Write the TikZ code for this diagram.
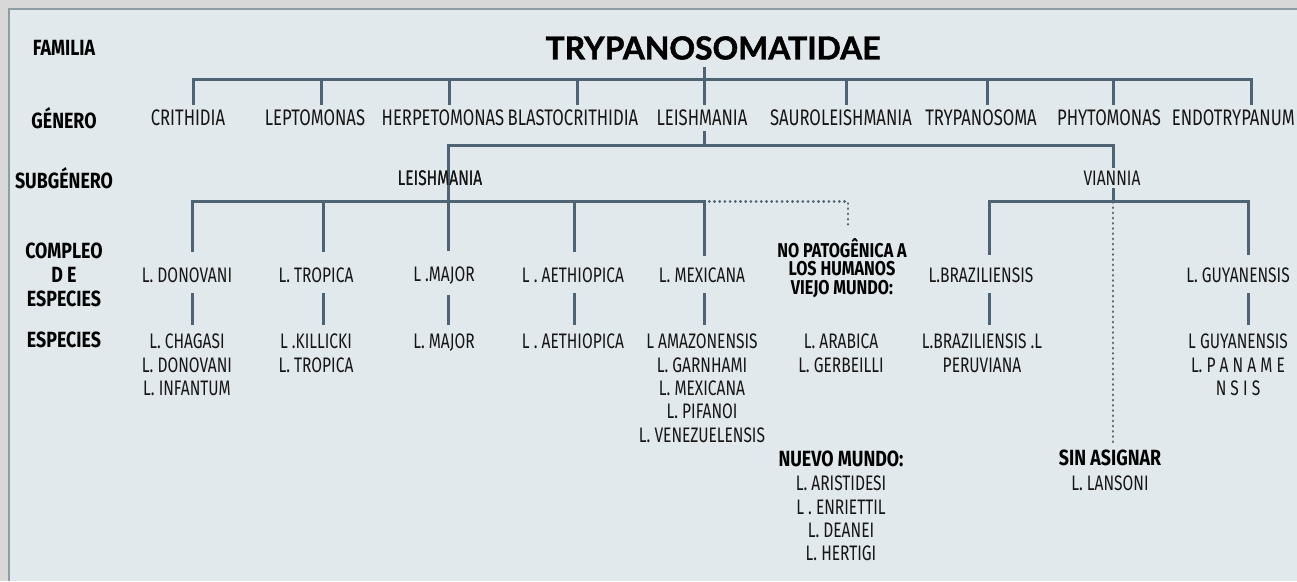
\documentclass[tikz,border=0pt]{standalone}
\usepackage{fontspec}
\setmainfont{Fira Sans}
\newfontfamily\cond{Fira Sans}[FakeStretch=0.74]
\newfontfamily\condb{Fira Sans}[FakeStretch=0.81]
\newfontfamily\titlef{Lato}[BoldFeatures={FakeBold=1.5}]
\definecolor{bg}{HTML}{E2E9EC}
\definecolor{lc}{HTML}{4E6373}
\definecolor{tc}{HTML}{161616}
\definecolor{framec}{HTML}{8D9DA6}
\definecolor{shadowc}{HTML}{D8D8D8}
\begin{document}
\begin{tikzpicture}[x=1pt,y=-1pt,
  line/.style={draw=lc,line width=3pt},
  dotline/.style={draw=lc,line width=2.8pt,line cap=round,dash pattern=on 0.2pt off 5pt},
  txt/.style={font=\cond\fontsize{21}{23.3}\selectfont,text=tc,inner sep=0pt,align=center},
  gtxt/.style={font=\cond\fontsize{22.5}{24}\selectfont,text=tc,inner sep=0pt,align=center},
  lab/.style={font=\condb\bfseries\fontsize{22}{23.8}\selectfont,text=black,inner sep=0pt,align=center},
  hd/.style={font=\condb\bfseries\fontsize{20}{18.6}\selectfont,text=black,inner sep=0pt,align=center},
]
\useasboundingbox (0,0) rectangle (1297,581);
% background and frame
\fill[shadowc] (0,0) rectangle (1297,581);
\fill[bg] (8,8) rectangle (1297,581);
\draw[framec,line width=2pt] (9,581) -- (9,9) -- (1297,9);

% title and row labels
\node[font=\titlef\bfseries\fontsize{31.8}{32}\selectfont,text=black,inner sep=0pt] (T) at (713,48) {TRYPANOSOMATIDAE};
\node[lab] (lF) at (64,48) {FAMILIA};
\node[lab] (lG) at (64,118) {GÉNERO};
\node[lab] (lS) at (64,178) {SUBGÉNERO};
\node[lab,anchor=north] (lC) at (64,243) {COMPLEO\\D E\\ESPECIES};
\node[lab] (lE) at (64,340) {ESPECIES};

% genera
\node[gtxt] (crith) at (188,118) {CRITHIDIA};
\node[gtxt] (lepto) at (315,118) {LEPTOMONAS};
\node[gtxt] (herpeto) at (443,118) {HERPETOMONAS};
\node[gtxt] (blasto) at (573,118) {BLASTOCRITHIDIA};
\node[gtxt] (leishG) at (702,118) {LEISHMANIA};
\node[gtxt] (sauro) at (841,118) {SAUROLEISHMANIA};
\node[gtxt] (trypano) at (981,118) {TRYPANOSOMA};
\node[gtxt] (phyto) at (1109,118) {PHYTOMONAS};
\node[gtxt,anchor=east] (endo) at (1295,118) {ENDOTRYPANUM};

% subgenera
\node[txt] (sL) at (440,178) {LEISHMANIA};
\node[txt] (sV) at (1112,178) {VIANNIA};

% species complexes
\node[txt] (cD) at (187,275.5) {L. DONOVANI};
\node[txt] (cT) at (316,275.5) {L. TROPICA};
\node[txt] (cM) at (444,275.5) {L .MAJOR};
\node[txt] (cA) at (573,275.5) {L . AETHIOPICA};
\node[txt] (cMx) at (702,275.5) {L. MEXICANA};
\node[txt] (cB) at (981,275.5) {L.BRAZILIENSIS};
\node[txt] (cG) at (1238,275.5) {L. GUYANENSIS};
\node[hd,anchor=north] (nP) at (842,238) {NO PATOGÊNICA A\\LOS HUMANOS\\VIEJO MUNDO:};

% species
\node[txt,anchor=north] (sD) at (187,334) {L. CHAGASI\\L. DONOVANI\\L. INFANTUM};
\node[txt,anchor=north] (sT) at (316,334) {L .KILLICKI\\L. TROPICA};
\node[txt,anchor=north] (sM) at (444,334) {L. MAJOR};
\node[txt,anchor=north] (sA) at (573,334) {L . AETHIOPICA};
\node[txt,anchor=north] (sMx) at (702,334) {L AMAZONENSIS\\L. GARNHAMI\\L. MEXICANA\\L. PIFANOI\\L. VENEZUELENSIS};
\node[txt,anchor=north] (oW) at (841,334) {L. ARABICA\\L. GERBEILLI};
\node[txt,anchor=north] (sB) at (982,334) {L.BRAZILIENSIS .L\\PERUVIANA};
\node[txt,anchor=north] (sG) at (1238,334) {L GUYANENSIS\\L. P A N A M E\\N S I S};

\node[lab] (nM) at (841,459) {NUEVO MUNDO:};
\node[txt,anchor=north] (nW) at (841,476) {L. ARISTIDESI\\L . ENRIETTIL\\L. DEANEI\\L. HERTIGI};
\node[lab] (sN) at (1110,458) {SIN ASIGNAR};
\node[txt] (sNL) at (1110,483) {L. LANSONI};

% family -> genera
\draw[line] ([xshift=5pt,yshift=5pt]crith.north) -- ++(0,-25) -| ([xshift=-44pt,yshift=5pt]endo.north east);
\foreach \n/\dx in {lepto/6,herpeto/6,blasto/4,sauro/5,trypano/6,phyto/4}
  \draw[line] ([xshift=\dx pt,yshift=5pt]\n.north) -- ++(0,-25);
\draw[line] ([xshift=2pt,yshift=-7pt]leishG.north |- T.south) -- ([xshift=2pt,yshift=5pt]leishG.north);

% Leishmania -> subgenera
\draw[line] ([xshift=2pt,yshift=-5pt]leishG.south) -- ++(0,16);
\draw[line] ([xshift=4pt,yshift=16pt]cM.north) -- ++(0,-105) -| ([xshift=1pt,yshift=3pt]sV.north);
\node[txt] at (sL) {LEISHMANIA};

% subgenus Leishmania -> complexes
\draw[line] ([xshift=5pt,yshift=16pt]cD.north) -- ++(0,-50) -| ([xshift=2pt,yshift=12pt]cMx.north);
\draw[line] ([xshift=7pt,yshift=16pt]cT.north) -- ++(0,-50);
\draw[line] ([xshift=1pt,yshift=16pt]cA.north) -- ++(0,-50);
\draw[dotline] ([xshift=2pt,yshift=66pt]cMx.north) -| ([xshift=6pt,yshift=12pt]nP.north);

% subgenus Viannia -> complexes
\draw[line] ([xshift=1pt,yshift=-3pt]sV.south) -- ++(0,14);
\draw[line] ([xshift=8pt,yshift=13pt]cB.north) -- ++(0,-53) -| ([xshift=10pt,yshift=13pt]cG.north);
\draw[dotline] ([xshift=3pt,yshift=8pt]sN.north) -- ++(0,-241);

% complexes -> species
\foreach \c/\s/\dx in {cD/sD/5,cT/sT/7,cM/sM/4,cA/sA/1,cMx/sMx/2,cB/sB/8,cG/sG/10}
  \draw[line] ([xshift=\dx pt,yshift=-10pt]\c.south) -- ([xshift=\dx pt,yshift=9pt]\c.south |- \s.north);
\end{tikzpicture}
\end{document}
